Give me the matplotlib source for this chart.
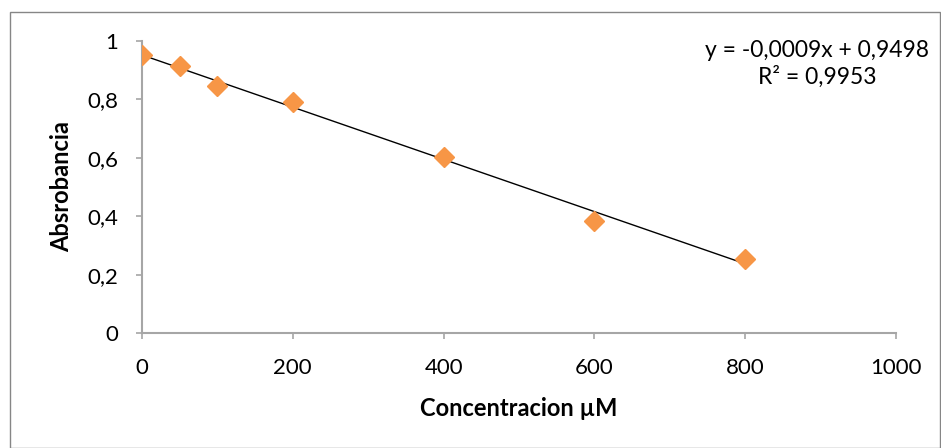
import numpy as np
import matplotlib
matplotlib.use("Agg")
import matplotlib.pyplot as plt
from matplotlib.patches import Rectangle
from matplotlib.ticker import FuncFormatter

conc = [0, 50, 100, 200, 400, 600, 800]
absorb = [0.952, 0.914, 0.845, 0.791, 0.603, 0.384, 0.254]
x_ticks = [0, 200, 400, 600, 800, 1000]
y_ticks = [0, 0.2, 0.4, 0.6, 0.8, 1.0]
eq_text = "y = -0,0009x + 0,9498\nR² = 0,9953"

plt.rcParams['font.family'] = ['Lato', 'DejaVu Sans']

fig = plt.figure(figsize=(9.41, 4.48), dpi=100)
fig.patches.append(Rectangle((10/941, 0.0), 930/941, 1 - 12/448, transform=fig.transFigure,
                             fill=False, edgecolor='#868686', linewidth=1.0))
ax = fig.add_axes([142/941, 1 - 333/448, (896-142)/941, (333-41)/448])

ax.plot(conc, absorb, linestyle='none', marker='D', markersize=10.5,
        color='#F79646', zorder=3)
coef = np.polyfit(conc, absorb, 1)
xl = np.array([min(conc), max(conc)])
ax.plot(xl, np.polyval(coef, xl), color='black', linewidth=1.0, zorder=2)

ax.set_xlim(0, 1000)
ax.set_ylim(0, 1)
ax.set_xticks(x_ticks)
ax.set_yticks(y_ticks)
fmt = FuncFormatter(lambda v, p: ('%g' % round(v, 2)).replace('.', ','))
ax.xaxis.set_major_formatter(fmt)
ax.yaxis.set_major_formatter(fmt)
for s in ['top', 'right']:
    ax.spines[s].set_visible(False)
for s in ['left', 'bottom']:
    ax.spines[s].set_color('#A6A6A6')
    ax.spines[s].set_linewidth(1.5)
ax.tick_params(axis='both', direction='out', length=4, width=1.2, color='#A6A6A6',
               labelsize=16, labelcolor='black')
ax.tick_params(axis='x', pad=14)
ax.tick_params(axis='y', pad=13)
ax.set_xlabel('Concentracion µM', fontsize=17, fontweight='bold', labelpad=14)
ax.set_ylabel('Absrobancia', fontsize=17, fontweight='bold', labelpad=10)
ax.set_clip_on(False)

fig.text(817/941, 1 - 64/448, eq_text, ha='center', va='center', fontsize=16.5,
         linespacing=1.3)

fig.savefig('out.png', dpi=100)
